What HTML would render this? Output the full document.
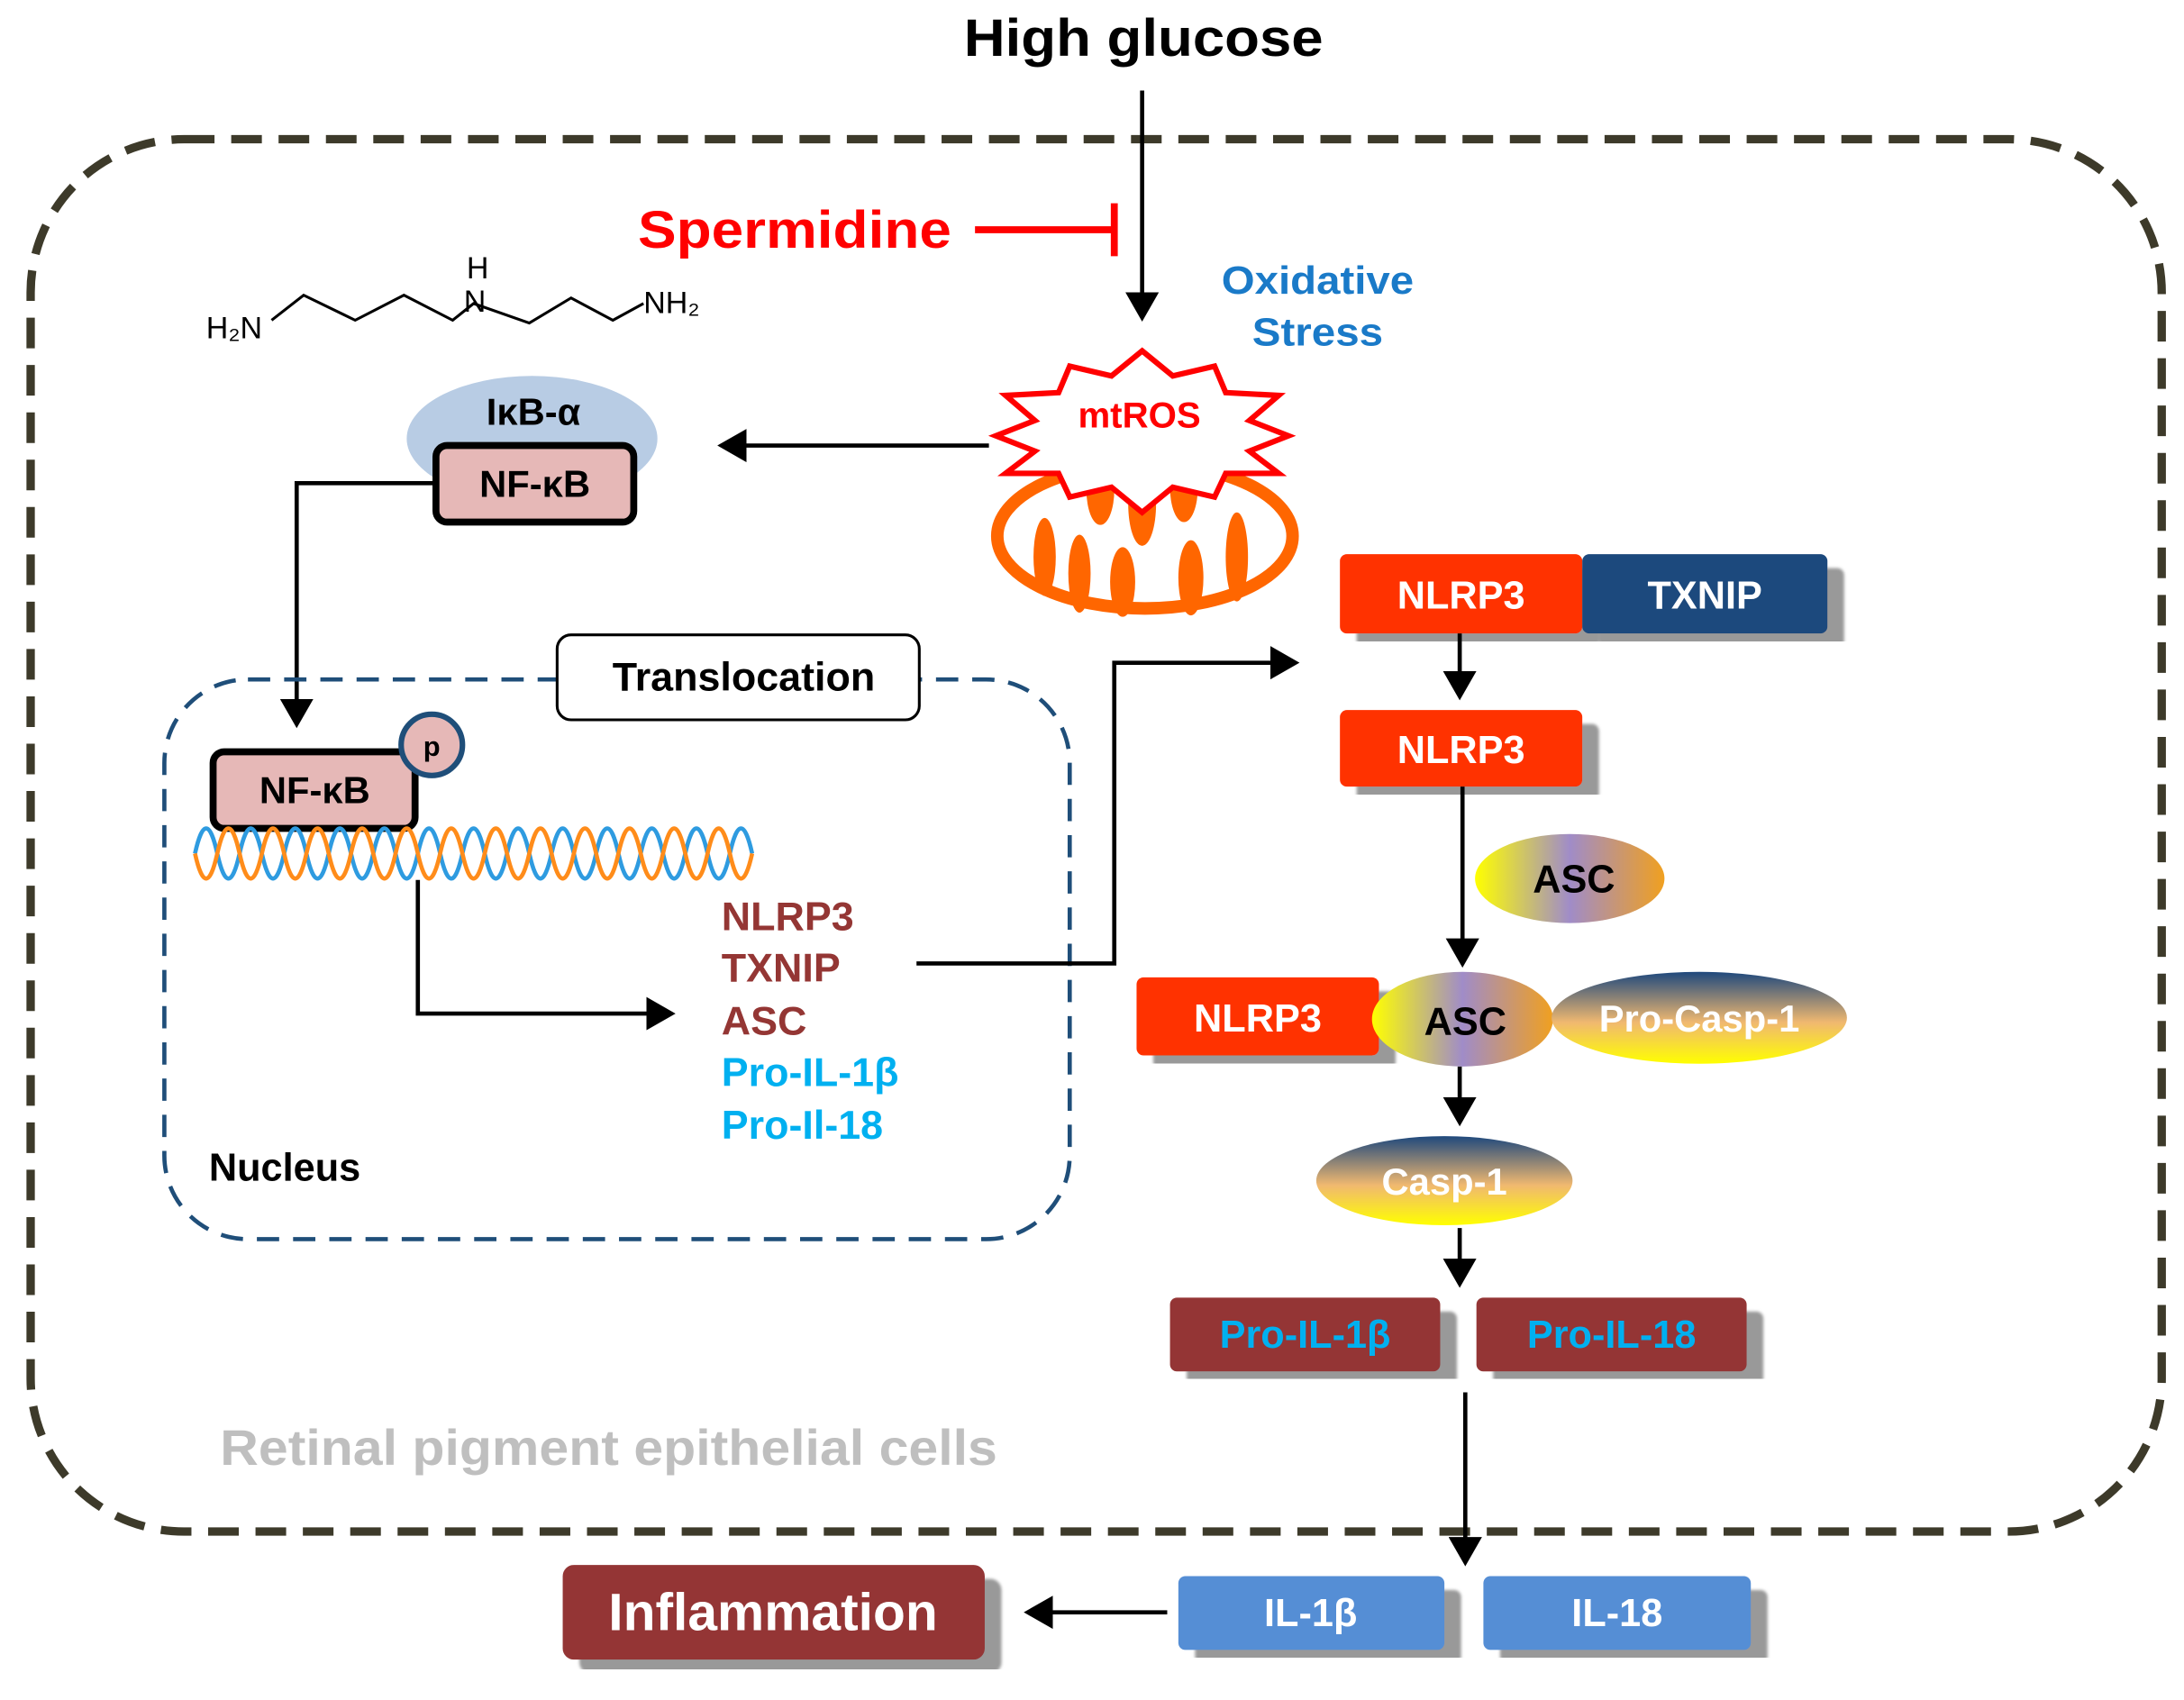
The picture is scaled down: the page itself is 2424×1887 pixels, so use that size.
<!DOCTYPE html>
<html><head><meta charset="utf-8"><style>html,body{margin:0;padding:0;background:#fff}svg{display:block}text{font-family:"Liberation Sans",sans-serif;font-weight:bold}</style></head>
<body>
<svg width="2424" height="1887" viewBox="0 0 1568 1221" preserveAspectRatio="none" xmlns="http://www.w3.org/2000/svg">
<defs>
<marker id="ar" markerWidth="8" markerHeight="8" refX="6" refY="4" orient="auto" markerUnits="strokeWidth"><path d="M0,0 L7,4 L0,8 Z" fill="#000"/></marker>
<linearGradient id="asc" x1="0" x2="1"><stop offset="0" stop-color="#ffff00"/><stop offset="0.5" stop-color="#a08cc8"/><stop offset="1" stop-color="#f0a020"/></linearGradient>
<linearGradient id="casp" x1="0" y1="0" x2="0" y2="1"><stop offset="0" stop-color="#1f497d"/><stop offset="0.55" stop-color="#f0b870"/><stop offset="1" stop-color="#ffff00"/></linearGradient>
<filter id="sh"><feDropShadow dx="12" dy="10" stdDeviation="1" flood-color="#999"/></filter>
</defs>
<rect width="1568" height="1221" fill="#fff"/>
<rect x="22" y="100" width="1530" height="1000" rx="110" fill="none" stroke="#3d3a2a" stroke-width="6" stroke-dasharray="22 12"/>
<text x="692" y="40" font-size="38" textLength="258" lengthAdjust="spacingAndGlyphs">High glucose</text>
<line x1="820" y1="65" x2="820" y2="228" stroke="#000" stroke-width="3" marker-end="url(#ar)"/>
<text x="458" y="178" font-size="38" fill="#ff0000" textLength="225" lengthAdjust="spacingAndGlyphs">Spermidine</text>
<line x1="700" y1="165" x2="800" y2="165" stroke="#ff0000" stroke-width="5"/>
<line x1="800" y1="146" x2="800" y2="184" stroke="#ff0000" stroke-width="5"/>
<g stroke="#000" stroke-width="2" fill="none"><polyline points="195,230 218,212 255,230 290,212 325,230 340,218 380,232 410,214 440,230 462,218"/></g>
<text x="148" y="243" font-size="22" style="font-weight:normal">H₂N</text>
<text x="335" y="200" font-size="22" style="font-weight:normal">H</text>
<text x="333" y="224" font-size="22" style="font-weight:normal">N</text>
<text x="462" y="225" font-size="22" style="font-weight:normal">NH₂</text>
<text x="877" y="211" font-size="28" fill="#1a7ac8" textLength="138" lengthAdjust="spacingAndGlyphs">Oxidative</text>
<text x="899" y="248" font-size="28" fill="#1a7ac8" textLength="94" lengthAdjust="spacingAndGlyphs">Stress</text>
<!-- mitochondria -->
<ellipse cx="822" cy="385" rx="106" ry="52" fill="none" stroke="#ff6600" stroke-width="9"/>
<g fill="#ff6600"><ellipse cx="775" cy="412" rx="8" ry="28"/><ellipse cx="806" cy="418" rx="9" ry="25"/><ellipse cx="855" cy="415" rx="9" ry="27"/><ellipse cx="888" cy="400" rx="8" ry="32"/><ellipse cx="790" cy="352" rx="10" ry="25"/><ellipse cx="820" cy="362" rx="10" ry="30"/><ellipse cx="850" cy="350" rx="10" ry="25"/><ellipse cx="750" cy="400" rx="8" ry="28"/></g>
<polygon points="820,252 842,270 872,263 880,282 918,284 897,302 925,313 897,324 918,340 880,340 872,357 842,350 820,368 798,350 768,357 760,340 722,340 743,324 715,313 743,302 722,284 760,282 768,263 798,270" fill="#fff" stroke="#ff0000" stroke-width="4"/>
<text x="818" y="307" font-size="26" fill="#ff0000" text-anchor="middle">mtROS</text>
<line x1="710" y1="320" x2="518" y2="320" stroke="#000" stroke-width="3" marker-end="url(#ar)"/>
<!-- IkB / NFkB -->
<ellipse cx="382" cy="315" rx="90" ry="45" fill="#b8cce4"/>
<text x="383" y="305" font-size="27" text-anchor="middle">IκB-α</text>
<rect x="313" y="320" width="142" height="55" rx="8" fill="#e6b8b7" stroke="#000" stroke-width="5"/>
<text x="384" y="357" font-size="27" text-anchor="middle">NF-κB</text>
<polyline points="313,347 213,347 213,520" fill="none" stroke="#000" stroke-width="3" marker-end="url(#ar)"/>
<!-- nucleus -->
<rect x="118" y="488" width="650" height="402" rx="60" fill="none" stroke="#1f4e79" stroke-width="3" stroke-dasharray="16 10"/>
<rect x="400" y="456" width="260" height="61" rx="10" fill="#fff" stroke="#000" stroke-width="2"/>
<text x="534" y="496" font-size="29" text-anchor="middle">Translocation</text>
<rect x="153" y="540" width="145" height="55" rx="8" fill="#e6b8b7" stroke="#000" stroke-width="5"/>
<text x="226" y="577" font-size="27" text-anchor="middle">NF-κB</text>
<circle cx="310" cy="535" r="22" fill="#e6b8b7" stroke="#1f4e79" stroke-width="4"/>
<text x="310" y="543" font-size="20" text-anchor="middle">p</text>
<path d="M140,613 q8,-36 16,0 q8,36 16,0 q8,-36 16,0 q8,36 16,0 q8,-36 16,0 q8,36 16,0 q8,-36 16,0 q8,36 16,0 q8,-36 16,0 q8,36 16,0 q8,-36 16,0 q8,36 16,0 q8,-36 16,0 q8,36 16,0 q8,-36 16,0 q8,36 16,0 q8,-36 16,0 q8,36 16,0 q8,-36 16,0 q8,36 16,0 q8,-36 16,0 q8,36 16,0 q8,-36 16,0 q8,36 16,0 q8,-36 16,0" fill="none" stroke="#2e9be0" stroke-width="3"/>
<path d="M140,613 q8,36 16,0 q8,-36 16,0 q8,36 16,0 q8,-36 16,0 q8,36 16,0 q8,-36 16,0 q8,36 16,0 q8,-36 16,0 q8,36 16,0 q8,-36 16,0 q8,36 16,0 q8,-36 16,0 q8,36 16,0 q8,-36 16,0 q8,36 16,0 q8,-36 16,0 q8,36 16,0 q8,-36 16,0 q8,36 16,0 q8,-36 16,0 q8,36 16,0 q8,-36 16,0 q8,36 16,0 q8,-36 16,0 q8,36 16,0" fill="none" stroke="#ff8c1a" stroke-width="3"/>
<polyline points="300,632 300,728 482,728" fill="none" stroke="#000" stroke-width="3" marker-end="url(#ar)"/>
<g font-size="29"><text x="518" y="668" fill="#943634">NLRP3</text><text x="518" y="705" fill="#943634">TXNIP</text><text x="518" y="743" fill="#943634">ASC</text><text x="518" y="780" fill="#00b0f0">Pro-IL-1β</text><text x="518" y="818" fill="#00b0f0">Pro-Il-18</text></g>
<text x="150" y="848" font-size="28">Nucleus</text>
<polyline points="658,692 800,692 800,476 930,476" fill="none" stroke="#000" stroke-width="3" marker-end="url(#ar)"/>
<!-- right cascade -->
<g filter="url(#sh)"><rect x="962" y="398" width="174" height="57" rx="5" fill="#ff3300"/><rect x="1136" y="398" width="176" height="57" rx="5" fill="#1f497d"/></g>
<text x="1049" y="437" font-size="28" fill="#fff" text-anchor="middle">NLRP3</text>
<text x="1224" y="437" font-size="28" fill="#fff" text-anchor="middle">TXNIP</text>
<line x1="1048" y1="455" x2="1048" y2="500" stroke="#000" stroke-width="3" marker-end="url(#ar)"/>
<rect x="962" y="510" width="174" height="55" rx="5" fill="#ff3300" filter="url(#sh)"/>
<text x="1049" y="548" font-size="28" fill="#fff" text-anchor="middle">NLRP3</text>
<line x1="1050" y1="565" x2="1050" y2="692" stroke="#000" stroke-width="3" marker-end="url(#ar)"/>
<ellipse cx="1127" cy="631" rx="68" ry="32" fill="url(#asc)"/>
<text x="1130" y="641" font-size="28" text-anchor="middle">ASC</text>
<rect x="816" y="702" width="174" height="56" rx="5" fill="#ff3300" filter="url(#sh)"/>
<text x="903" y="741" font-size="28" fill="#fff" text-anchor="middle">NLRP3</text>
<ellipse cx="1050" cy="732" rx="65" ry="34" fill="url(#asc)"/>
<text x="1052" y="743" font-size="28" text-anchor="middle">ASC</text>
<ellipse cx="1220" cy="731" rx="106" ry="33" fill="url(#casp)"/>
<text x="1220" y="741" font-size="27" fill="#fff" text-anchor="middle">Pro-Casp-1</text>
<line x1="1048" y1="766" x2="1048" y2="806" stroke="#000" stroke-width="3" marker-end="url(#ar)"/>
<ellipse cx="1037" cy="848" rx="92" ry="32" fill="url(#casp)"/>
<text x="1037" y="858" font-size="27" fill="#fff" text-anchor="middle">Casp-1</text>
<line x1="1048" y1="882" x2="1048" y2="922" stroke="#000" stroke-width="3" marker-end="url(#ar)"/>
<g filter="url(#sh)"><rect x="840" y="932" width="194" height="53" rx="5" fill="#943634"/><rect x="1060" y="932" width="194" height="53" rx="5" fill="#943634"/></g>
<text x="937" y="968" font-size="28" fill="#00b0f0" text-anchor="middle">Pro-IL-1β</text>
<text x="1157" y="968" font-size="28" fill="#00b0f0" text-anchor="middle">Pro-IL-18</text>
<line x1="1052" y1="1000" x2="1052" y2="1122" stroke="#000" stroke-width="3" marker-end="url(#ar)"/>
<g filter="url(#sh)"><rect x="846" y="1132" width="191" height="53" rx="5" fill="#558ed5"/><rect x="1065" y="1132" width="192" height="53" rx="5" fill="#558ed5"/></g>
<text x="941" y="1168" font-size="28" fill="#fff" text-anchor="middle">IL-1β</text>
<text x="1161" y="1168" font-size="28" fill="#fff" text-anchor="middle">IL-18</text>
<line x1="838" y1="1158" x2="738" y2="1158" stroke="#000" stroke-width="3" marker-end="url(#ar)"/>
<rect x="404" y="1124" width="303" height="68" rx="8" fill="#943634" filter="url(#sh)"/>
<text x="555" y="1171" font-size="38" fill="#fff" text-anchor="middle">Inflammation</text>
<text x="158" y="1052" font-size="36" fill="#bfbfbf" textLength="558" lengthAdjust="spacingAndGlyphs">Retinal pigment epithelial cells</text>
</svg>
</body></html>
